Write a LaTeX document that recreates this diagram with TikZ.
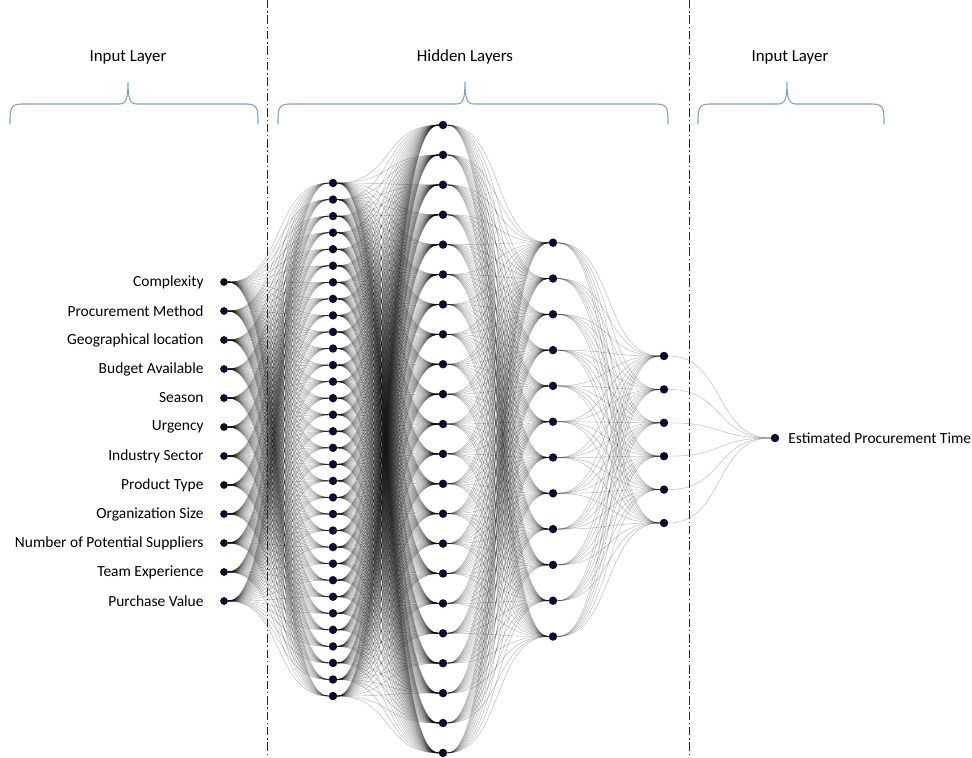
\documentclass[tikz,border=0pt]{standalone}
\usepackage{fontspec}
\setmainfont{Carlito}
\usepackage{tikz}
\usetikzlibrary{backgrounds}

\definecolor{dotblue}{HTML}{0B0B2E}
\definecolor{bracecol}{HTML}{7DA3D4}

\tikzset{
  neuron/.style={circle, fill=dotblue, inner sep=0pt, minimum size=6pt},
  link/.style={draw=black, draw opacity=0.24, line width=0.4pt},
  sep/.style={black!85, line width=0.6pt, dash pattern=on 6pt off 2pt on 1pt off 2pt},
  brace/.style={bracecol, line width=0.8pt},
}

\begin{document}
\begin{tikzpicture}[x=0.025cm, y=-0.025cm, font=\fontsize{11}{13}\selectfont]
  \useasboundingbox (0,0) rectangle (972,757);

  % Curly brace: left end, tip, right end
  \def\drawBrace#1#2#3{
    \draw[brace] (#1,124) .. controls (#1,109) and (#1,104) .. (#1+12,104)
      -- (#2-9,104) .. controls (#2-2,104) and (#2,99) .. (#2,82)
      .. controls (#2,99) and (#2+2,104) .. (#2+9,104)
      -- (#3-12,104) .. controls (#3,104) and (#3,109) .. (#3,124);
  }

  % Layer titles and braces
  \node[font=\fontsize{12}{14}\selectfont] (tin) at (128,57) {Input Layer};
  \node[font=\fontsize{12}{14}\selectfont] (thid) at (465,57) {Hidden Layers};
  \node[font=\fontsize{12}{14}\selectfont] (tout) at (790,57) {Input Layer};
  \drawBrace{10}{128}{258}
  \drawBrace{278}{465}{668}
  \drawBrace{698}{787}{884}

  % Dash-dot separators
  \draw[sep] (267,0) -- (267,757);
  \draw[sep] (689,0) -- (689,757);

  % Input layer with labels
  \foreach \t [count=\i] in {Complexity, Procurement Method, Geographical location,
      Budget Available, Season, Urgency, Industry Sector, Product Type,
      Organization Size, Number of Potential Suppliers, Team Experience, Purchase Value} {
    \node[neuron, minimum size=5.5pt] (in-\i) at (224,{282+29*(\i-1)}) {};
    \node[anchor=east] (lbl-\i) at ([xshift=-11pt]in-\i.center) {\t};
  }

  % Hidden layers
  \foreach \i in {1,...,32}
    \node[neuron] (ha-\i) at (333,{183+16.55*(\i-1)}) {};
  \foreach \i in {1,...,22}
    \node[neuron] (hb-\i) at (443,{125+29.9*(\i-1)}) {};
  \foreach \i in {1,...,12}
    \node[neuron] (hc-\i) at (553,{242.7+35.8*(\i-1)}) {};
  \foreach \i in {1,...,6}
    \node[neuron] (hd-\i) at (664,{356+33.4*(\i-1)}) {};

  % Output
  \node[neuron] (out) at (775,438) {};
  \node[anchor=west] (lblout) at ([xshift=6pt]out.center) {Estimated Procurement Time};

  % Connections
  \begin{scope}[on background layer]
    \foreach \i in {1,...,12}
      \foreach \j in {1,...,32}
        \draw[link] (in-\i) .. controls +(60,0) and +(-60,0) .. (ha-\j);
    \foreach \i in {1,...,32}
      \foreach \j in {1,...,22}
        \draw[link] (ha-\i) .. controls +(60,0) and +(-60,0) .. (hb-\j);
    \foreach \i in {1,...,22}
      \foreach \j in {1,...,12}
        \draw[link] (hb-\i) .. controls +(60,0) and +(-60,0) .. (hc-\j);
    \foreach \i in {1,...,12}
      \foreach \j in {1,...,6}
        \draw[link] (hc-\i) .. controls +(60,0) and +(-60,0) .. (hd-\j);
    \foreach \i in {1,...,6}
      \draw[link] (hd-\i) .. controls +(60,0) and +(-60,0) .. (out);
  \end{scope}
\end{tikzpicture}
\end{document}
